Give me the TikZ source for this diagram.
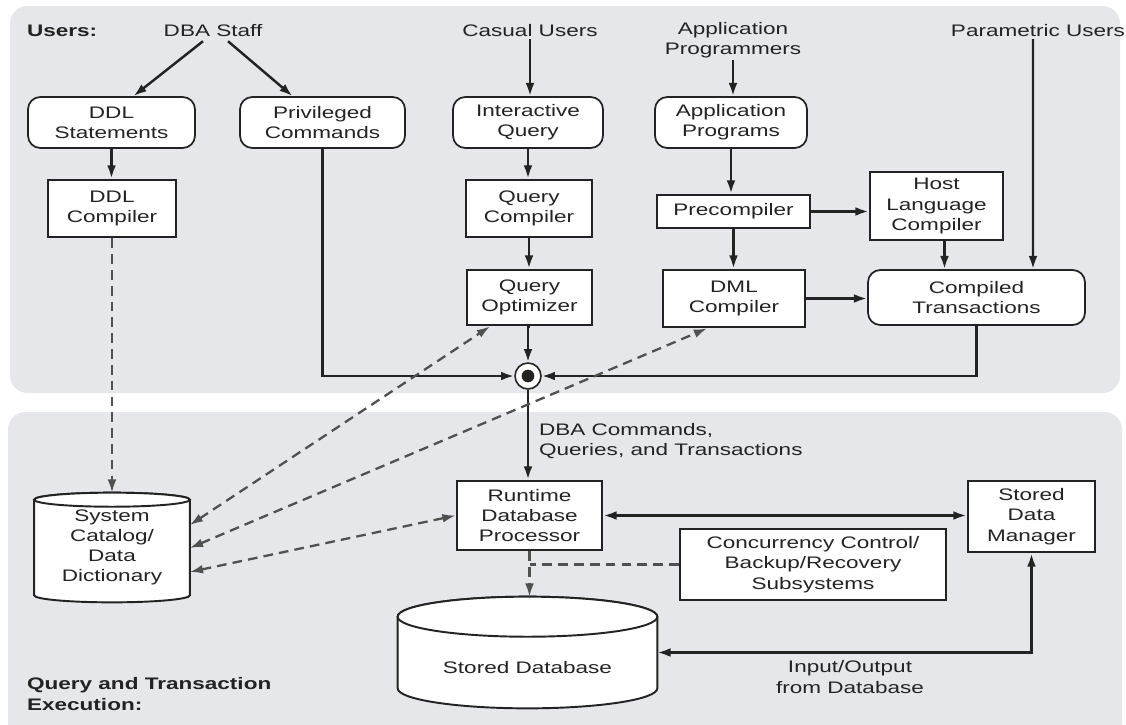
\documentclass[tikz,border=0pt]{standalone}
\usepackage{fontspec}
\setmainfont{Liberation Sans}[FakeStretch=1.35]
\usetikzlibrary{arrows.meta,calc,positioning,backgrounds}

\definecolor{panelgray}{RGB}{229,231,234}
\definecolor{inkgray}{RGB}{35,35,35}
\definecolor{dashgray}{RGB}{80,80,80}

% cylinder drawn behind a named node: #1 node, #2 rim depth
\newcommand{\drum}[2]{%
  \begin{scope}[on background layer]
    \filldraw[drumline] let \p1=(#1.north west), \p2=(#1.south east) in
      (\x1,\y1-#2) -- (\x1,\y2+#2)
      arc[start angle=180,end angle=360,x radius={(\x2-\x1)/2},y radius=#2]
      -- (\x2,\y1-#2)
      arc[start angle=0,end angle=180,x radius={(\x2-\x1)/2},y radius=#2]
      -- cycle;
    \draw[drumline] let \p1=(#1.north west), \p2=(#1.south east) in
      ({(\x1+\x2)/2},\y1-#2) ellipse[x radius={(\x2-\x1)/2},y radius=#2];
  \end{scope}}

\begin{document}
\begin{tikzpicture}[
    x=0.02cm, y=-0.02cm,
    font=\fontsize{9.5}{11.5}\selectfont,
    tag/.style={inner sep=1pt, align=center, text=inkgray},
    hdr/.style={tag, align=left, font=\fontsize{9.5}{11.5}\selectfont\bfseries},
    rbox/.style={
        rectangle,
        draw=inkgray,
        fill=white,
        rounded corners=7pt,
        line width=1pt,
        align=center,
        inner sep=2pt,
        text=inkgray,
        minimum height=1.02cm
    },
    sbox/.style={
        rectangle,
        draw=inkgray,
        fill=white,
        line width=1.6pt,
        align=center,
        inner sep=2pt,
        text=inkgray
    },
    drumbody/.style={rectangle, align=center, inner sep=0pt, text=inkgray},
    drumline/.style={draw=inkgray, fill=white, line width=1.1pt},
    hubring/.style={circle, draw=inkgray, fill=white, line width=0.9pt,
        minimum size=0.52cm, inner sep=0pt},
    flow/.style={-{Latex[length=7.5pt,width=5pt]}, draw=inkgray, line width=1.4pt},
    both/.style={{Latex[length=7.5pt,width=5pt]}-{Latex[length=7.5pt,width=5pt]},
        draw=inkgray, line width=1.4pt},
    link/.style={{Latex[length=7.5pt,width=5pt]}-{Latex[length=7.5pt,width=5pt]},
        draw=dashgray, line width=1.3pt, dash pattern=on 5.5pt off 3.5pt},
    feed/.style={-{Latex[length=7.5pt,width=5pt]}, draw=dashgray, line width=1.3pt,
        dash pattern=on 5.5pt off 3.5pt},
    plainfeed/.style={draw=dashgray, line width=1.3pt, dash pattern=on 5.5pt off 3.5pt}
]
    \useasboundingbox (0,0) rectangle (1126,724);

    % --- PANELS ---
    \begin{scope}[on background layer]
        \fill[white] (0,0) rectangle (1126,724);
        \fill[panelgray, rounded corners=10pt] (10,6) rectangle (1120,393);
        \fill[panelgray, rounded corners=10pt] (8,412) rectangle (1122,740);
    \end{scope}

    % --- USERS ---
    \node[hdr, anchor=west] (users) at (25,31) {Users:};
    \node[tag] (dba) at (213,31) {DBA Staff};
    \node[tag] (casual) at (530,31) {Casual Users};
    \node[tag] (apprg) at (733,40) {Application\\Programmers};
    \node[tag] (param) at (1038,31) {Parametric Users};

    % --- ENTRY BOXES ---
    \node[rbox, minimum width=3.34cm] (ddls) at (111.5,122.5) {DDL\\Statements};
    \node[rbox, minimum width=3.30cm] (priv) at (322.5,122.5) {Privileged\\Commands};
    \node[rbox, minimum width=3.00cm] (iq) at (528,122.5) {Interactive\\Query};
    \node[rbox, minimum width=3.04cm] (ap) at (731,122.5) {Application\\Programs};

    % --- COMPILERS ---
    \node[sbox, minimum width=2.56cm, minimum height=1.14cm] (ddlc) at (112,208.5) {DDL\\Compiler};
    \node[sbox, minimum width=2.52cm, minimum height=1.14cm] (qc) at (529,208.5) {Query\\Compiler};
    \node[sbox, minimum width=3.06cm, minimum height=0.66cm] (prec) at (733.5,211.5) {Precompiler};
    \node[sbox, minimum width=2.66cm, minimum height=1.36cm] (hlc) at (936.5,206) {Host\\Language\\Compiler};
    \node[sbox, minimum width=2.50cm, minimum height=1.10cm] (qo) at (529.5,297.5) {Query\\Optimizer};
    \node[sbox, minimum width=2.84cm, minimum height=1.14cm] (dml) at (734,298.5) {DML\\Compiler};
    \node[rbox, minimum width=4.34cm, minimum height=1.10cm] (ct) at (976.5,297.5) {Compiled\\Transactions};

    \node[hubring] (hub) at (528,376) {};
    \fill[inkgray] (hub.center) circle[radius=3.6pt];

    % --- EXECUTION ---
    \node[tag, anchor=west, align=left] (cmds) at (537,441) {DBA Commands,\\Queries, and Transactions};
    \node[sbox, minimum width=2.90cm, minimum height=1.38cm] (rt) at (529.5,515.5) {Runtime\\Database\\Processor};
    \node[sbox, minimum width=2.54cm, minimum height=1.42cm] (sdm) at (1031.5,516.5) {Stored\\Data\\Manager};
    \node[sbox, minimum width=5.32cm, minimum height=1.42cm] (cc) at (813,564.5) {Concurrency Control/\\Backup/Recovery\\Subsystems};

    \node[drumbody, minimum width=3.10cm, minimum height=2.18cm] (cat) at (112,547.5) {System\\Catalog/\\Data\\Dictionary};
    \node[drumbody, minimum width=5.18cm, minimum height=2.22cm,
        text height=23.6pt, text depth=0pt] (sdb) at (527.5,652.5) {Stored Database};
    \drum{cat}{4pt}
    \drum{sdb}{11.4pt}

    \node[tag] (io) at (850,677) {Input/Output\\from Database};
    \node[hdr, anchor=west] (qte) at (25,694) {Query and Transaction\\Execution:};

    % --- CONNECTIONS ---
    % users to entry boxes
    \draw[flow] ($(dba.south)+(-10,2)$) -- ($(ddls.north)+(22,0)$);
    \draw[flow] ($(dba.south)+(15,2)$) -- ($(priv.north)+(-30,0)$);
    \draw[flow] (casual.south) -- (casual.south |- iq.north);
    \draw[flow] (apprg.south) -- (apprg.south |- ap.north);
    \draw[flow] ($(param.south)+(-5,0)$) -- ($(ct.north)+(56.5,0)$);

    % compile chains
    \draw[flow] (ddls.south) -- (ddls.south |- ddlc.north);
    \draw[flow] (iq.south) -- (iq.south |- qc.north);
    \draw[flow] (qc.south) -- (qc.south |- qo.north);
    \draw[flow] (ap.south) -- (ap.south |- prec.north);
    \draw[flow] (prec.east) -- (prec.east -| hlc.west);
    \draw[flow] (prec.south) -- (prec.south |- dml.north);
    \draw[flow] (dml.east) -- (dml.east -| ct.west);
    \draw[flow] ($(hlc.south)+(8,0)$) -- ($(hlc.south |- ct.north)+(8,0)$);

    % into the hub
    \draw[flow] (qo.south) -- (qo.south -| hub.north) -- (hub.north);
    \draw[flow] (priv.south) |- (hub.west);
    \draw[flow] (ct.south) |- (hub.east);
    \draw[flow] (hub.south) -- (hub.south |- rt.north);

    % catalog links
    \draw[feed] (ddlc.south) -- (ddlc.south |- cat.north);
    \draw[link] ($(cat.east)+(0,-22.5)$) -- ($(qo.south)+(-39.5,0)$);
    \draw[link] ($(cat.east)+(0,0.5)$) -- ($(dml.south)+(-27,0)$);
    \draw[link] ($(cat.east)+(0,24.5)$) -- (rt.west);

    % runtime side
    \draw[both] (rt.east) -- (rt.east -| sdm.west);
    \draw[feed] (rt.south) -- (rt.south |- sdb.north);
    \draw[plainfeed] (cc.west) -- (cc.west -| rt.south);
    \draw[both] (sdb.east) -| (sdm.south);

\end{tikzpicture}
\end{document}
